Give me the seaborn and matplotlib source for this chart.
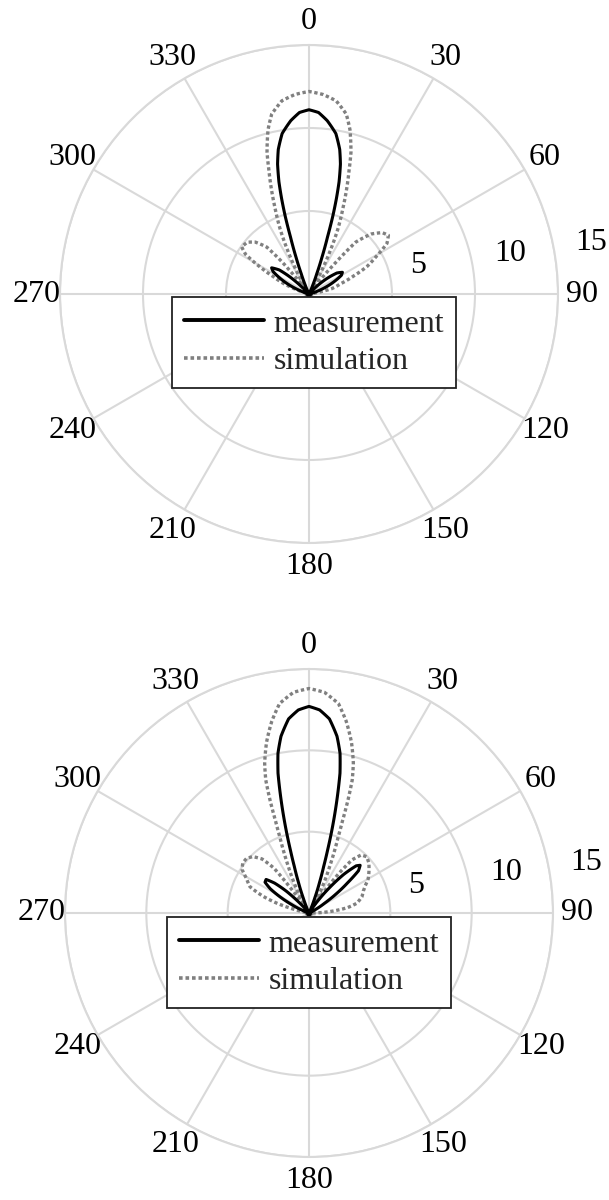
import numpy as np
import pandas as pd
import matplotlib
matplotlib.use("Agg")
import matplotlib.pyplot as plt
from matplotlib.lines import Line2D
import seaborn as sns

# ---------------- data ----------------
theta_ticks = list(range(0, 360, 30))
theta_labels = [str(t) for t in theta_ticks]
r_ticks = [5, 10, 15]
r_labels = ["5", "10", "15"]
series_names = ["measurement", "simulation"]

# top panel
top_meas_deg = [-180, -150, -120, -95, -80, -76, -73, -70, -66, -62, -58, -55, -51, -48, -45, -42,
                -38, -32, -28, -25, -23, -21, -19.5, -18, -17, -16, -15, -13.6, -12, -9.5, -6, -3,
                0, 3, 6, 9.5, 12, 13.6, 15, 16, 17, 18, 19.5, 21, 23, 25, 28, 33, 38, 42, 45, 49,
                53, 57, 60, 63, 67, 71, 75, 79, 85, 95, 120, 150, 180]
top_meas_r = [0.1, 0.1, 0.1, 0.1, 0.1, 0.1, 0.15, 0.5, 1.2, 1.9, 2.55, 2.75, 2.3, 1.5, 0.5, 0.15,
              0.1, 0.1, 0.1, 0.2, 0.6, 1.3, 2.3, 3.6, 4.9, 6.0, 7.0, 8.05, 8.9, 9.8, 10.5, 10.95,
              11.1, 10.95, 10.5, 9.8, 8.9, 8.05, 7.0, 6.0, 4.9, 3.6, 2.3, 1.3, 0.6, 0.2, 0.1, 0.1,
              0.1, 0.15, 0.6, 1.4, 2.1, 2.4, 2.25, 1.8, 1.2, 0.6, 0.15, 0.1, 0.1, 0.1, 0.1, 0.1, 0.1]

top_sim_deg = [-180, -150, -120, -95, -82, -76, -73, -70, -67.4, -64, -61, -58, -55, -50, -46, -42,
               -40, -39, -37, -35, -32, -30, -28, -26, -24, -21.5, -19.9, -18, -16.5, -14, -11.7,
               -8, -4, 0, 4, 8, 11.7, 14, 16.5, 18, 19.9, 21.5, 24, 26, 28, 30, 32, 34, 36, 38, 40,
               42, 46, 50, 53.5, 57, 61, 64.7, 68, 72, 76.8, 80, 83, 95, 120, 150, 180]
top_sim_r = [0.15, 0.15, 0.15, 0.15, 0.15, 0.1, 0.3, 1.0, 1.68, 2.4, 3.4, 4.5, 4.95, 4.85, 4.5, 3.8,
             2.5, 1.5, 0.2, 0.1, 0.3, 0.9, 1.8, 3.0, 4.26, 5.6, 6.6, 7.8, 8.9, 10.2, 11.07,
             11.75, 12.05, 12.2, 12.05, 11.75, 11.07, 10.2, 8.9, 7.8, 6.6, 5.6, 4.26, 3.0, 1.8, 0.9,
             0.3, 0.1, 0.1, 0.8, 2.2, 4.2, 5.2, 5.75, 5.95, 5.6, 4.6, 3.85, 2.9, 2.0, 1.4, 0.5, 0.1,
             0.15, 0.15, 0.15, 0.15]

# bottom panel
bot_meas_deg = [-180, -150, -120, -95, -80, -72, -68, -64, -61, -58, -55, -52, -49, -46, -43, -40,
                -35, -30, -26, -23, -21, -19, -17.5, -16.5, -15.5, -14.5, -13.5, -12.5, -11, -9, -6,
                -3, 0, 3, 6, 9, 11, 12.5, 13.5, 14.5, 15.5, 16.5, 17.5, 19, 21, 23, 26, 29, 31, 33,
                36, 39, 42, 45, 47, 49.5, 52, 55, 58, 62, 66, 75, 95, 120, 150, 180]
bot_meas_r = [0.1, 0.1, 0.1, 0.1, 0.1, 0.1, 0.4, 1.2, 2.0, 2.8, 3.3, 3.35, 2.8, 1.9, 0.8, 0.15,
              0.1, 0.1, 0.1, 0.4, 1.0, 2.0, 3.0, 4.0, 5.2, 6.4, 7.6, 8.8, 10.0, 11.0, 12.0,
              12.5, 12.7, 12.5, 12.0, 11.0, 10.0, 8.8, 7.6, 6.4, 5.2, 4.0, 3.0, 2.0, 1.0, 0.4, 0.1,
              0.1, 0.1, 0.15, 0.9, 2.0, 3.2, 4.1, 4.3, 4.0, 3.0, 2.0, 1.1, 0.4, 0.1, 0.1, 0.1, 0.1,
              0.1, 0.1]

bot_sim_deg = [-180, -150, -120, -95, -85, -82, -79, -76, -73, -70, -66, -61, -57, -53, -49, -45,
               -41, -38, -36, -34, -32, -30, -28, -26, -24, -22.5, -21, -20, -19, -18, -16.5, -14,
               -11, -8, -4, 0, 4, 8, 11, 14, 16.5, 18, 19, 20, 21, 22.5, 24, 26, 28, 30, 32, 33,
               35, 37, 39, 42, 45.7, 50, 55, 60, 64, 68, 73, 78.5, 82, 86, 89, 92, 120, 150, 180]
bot_sim_r = [0.15, 0.15, 0.15, 0.15, 0.1, 0.15, 0.3, 1.0, 2.07, 3.0, 3.97, 4.4, 4.9, 5.1, 5.1, 4.9,
             4.4, 3.5, 1.5, 0.3, 0.2, 0.7, 1.4, 2.2, 3.1, 4.0, 5.0, 6.0, 7.4, 8.6, 9.6, 10.8,
             12.0, 13.0, 13.6, 13.8, 13.6, 13.0, 12.0, 10.8, 9.6, 8.6, 7.4, 6.0, 5.0, 4.0, 3.1, 2.2,
             1.4, 0.7, 0.2, 0.4, 1.5, 3.0, 4.2, 4.8, 4.95, 4.8, 4.5, 4.2, 3.85, 3.6, 3.4, 2.99, 2.4,
             1.3, 0.4, 0.1, 0.15, 0.15, 0.15]

# ---------------- style ----------------
sns.set_theme(style="white")
plt.rcParams["font.family"] = ["Liberation Serif", "DejaVu Serif"]
FS = 23
GRID_COLOR = "#d9d9d9"
MEAS_COLOR = "black"
SIM_COLOR = "#808080"
SIM_DASH = (0, (1.0, 0.8))

fig = plt.figure(figsize=(6.09, 12.0), dpi=100)
W, H = 609.0, 1200.0


def make_axes(cx, cy, rad):
    return fig.add_axes([(cx - rad) / W, (H - cy - rad) / H, 2 * rad / W, 2 * rad / H],
                        projection="polar")


panels = [
    dict(ax=make_axes(309, 294, 249),
         meas=(top_meas_deg, top_meas_r), sim=(top_sim_deg, top_sim_r), leg=(172, 297)),
    dict(ax=make_axes(309, 913, 244),
         meas=(bot_meas_deg, bot_meas_r), sim=(bot_sim_deg, bot_sim_r), leg=(167, 917)),
]

rlab_pos = [(75.5, 6.8), (78.5, 12.35), (79.6, 17.3)]

for p in panels:
    ax = p["ax"]
    ax.set_theta_zero_location("N")
    ax.set_theta_direction(-1)
    ax.set_facecolor("white")

    md, mr = p["meas"]
    sd, sr = p["sim"]
    dfm = pd.DataFrame({"theta": np.deg2rad(md), "r": mr})
    dfs = pd.DataFrame({"theta": np.deg2rad(sd), "r": sr})
    sns.lineplot(data=dfs, x="theta", y="r", ax=ax, sort=False, estimator=None,
                 color=SIM_COLOR, linewidth=2.4, linestyle=SIM_DASH, zorder=3)
    sns.lineplot(data=dfm, x="theta", y="r", ax=ax, sort=False, estimator=None,
                 color=MEAS_COLOR, linewidth=2.2, zorder=4)
    # let the polar transform draw each segment as a smooth curve
    for ln in ax.lines:
        ln.get_path()._interpolation_steps = 12
        ln._transformed_path = None

    ax.set_xlabel("")
    ax.set_ylabel("")
    ax.set_ylim(0, 15)
    ax.set_thetagrids(theta_ticks, theta_labels, fontsize=FS)
    ax.set_rgrids(r_ticks, labels=[""] * len(r_ticks))
    ax.grid(True, color=GRID_COLOR, linewidth=1.5)
    ax.spines["polar"].set_color(GRID_COLOR)
    ax.spines["polar"].set_linewidth(1.5)
    ax.tick_params(axis="x", pad=10, length=0, colors="black")
    ax.tick_params(axis="y", length=0)

    for (ang, rr), lab in zip(rlab_pos, r_labels):
        ax.text(np.deg2rad(ang), rr, lab, fontsize=FS, ha="center", va="center",
                clip_on=False, color="black")

    handles = [Line2D([], [], color=MEAS_COLOR, linewidth=2.8),
               Line2D([], [], color=SIM_COLOR, linewidth=2.6, linestyle=SIM_DASH)]
    lx, ly = p["leg"]
    leg = ax.legend(handles, series_names, loc="upper left",
                    bbox_to_anchor=(lx / W, 1 - ly / H), bbox_transform=fig.transFigure,
                    borderaxespad=0, frameon=True, fancybox=False, framealpha=1,
                    edgecolor="#222222", handlelength=2.5, handletextpad=0.3,
                    labelspacing=0.25, borderpad=0.38, prop={"size": FS})
    leg.get_frame().set_linewidth(1.3)
    leg.set_zorder(10)

fig.savefig("out.png", dpi=100, facecolor="white")
